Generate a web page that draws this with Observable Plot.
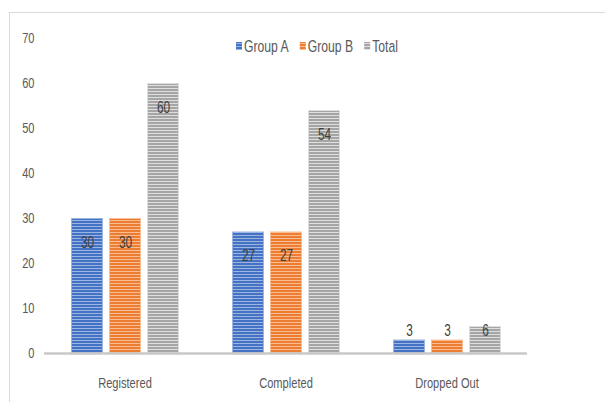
<!DOCTYPE html>
<html>
<head>
<meta charset="utf-8">
<script src="https://cdn.jsdelivr.net/npm/d3@7"></script>
<script src="https://cdn.jsdelivr.net/npm/@observablehq/plot@0.6"></script>
<style>
  html, body { margin: 0; padding: 0; background: #fff; }
  #wrap { position: relative; width: 605px; height: 402px; overflow: hidden; }
  #frame { position: absolute; left: 9px; top: 12px; right: -2px; bottom: -2px;
           border-top: 1.5px solid #d9d9d9; border-left: 1.5px solid #d9d9d9; }
  #chart { position: absolute; left: 0; top: 0; }
</style>
</head>
<body>
<div id="wrap">
  <div id="frame"></div>
  <div id="chart"></div>
</div>
<script>
// Enrollment figures per stage
const stages = ["Registered", "Completed", "Dropped Out"];
const series = ["Group A", "Group B", "Total"];
const groupA = [30, 27, 3];
const groupB = [30, 27, 3];
const total = [60, 54, 6];
const yTicks = [0, 10, 20, 30, 40, 50, 60, 70];

// Striped fills: base colour with lighter horizontal lines
const swatches = {
  "Group A": {id: "stripeA", base: "#4472c4", light: "#9db4e0"},
  "Group B": {id: "stripeB", base: "#ed7d31", light: "#f8bd95"},
  "Total":   {id: "stripeT", base: "#a5a5a5", light: "#dedede"}
};

const rows = [];
stages.forEach((stage, i) => {
  [groupA, groupB, total].forEach((vals, j) => {
    rows.push({stage, series: series[j], value: vals[i]});
  });
});

const tall = rows.filter(d => d.value >= 10);
const short = rows.filter(d => d.value < 10);
const shortLabelLevel = 5;

// Narrow lettering: a sans face squeezed horizontally
const font = `"Liberation Sans", Arial, sans-serif`;
const squeeze = 0.74;

const chart = Plot.plot({
  width: 605,
  height: 402,
  marginLeft: 43,
  marginRight: 77,
  marginTop: 38,
  marginBottom: 49,
  style: {fontFamily: font, fontSize: "15px", color: "#595959", background: "transparent"},
  fx: {domain: stages, padding: 0, label: null, axis: "bottom", tickSize: 0, tickPadding: 24},
  x: {domain: series, paddingInner: 0.16, paddingOuter: 0.67, align: 0.5, axis: null},
  y: {domain: [0, 70], ticks: yTicks, tickSize: 0, tickPadding: 10, label: null},
  color: {domain: series, range: series.map(s => `url(#${swatches[s].id})`)},
  marks: [
    Plot.barY(rows, {fx: "stage", x: "series", y: "value", fill: "series",
      stroke: d => swatches[d.series].light, strokeWidth: 1, inset: 0.5}),
    Plot.ruleY([0], {stroke: "#c8c8c8", strokeWidth: 2.5}),
    Plot.text(tall, {fx: "stage", x: "series", y: "value", text: d => String(d.value),
      dy: 24, fill: "#404040", fontSize: 16}),
    Plot.text(short, {fx: "stage", x: "series", y: () => shortLabelLevel, text: d => String(d.value),
      fill: "#404040", fontSize: 16})
  ]
});

// Stripe pattern definitions
const svg = d3.select(chart);
const defs = svg.insert("defs", ":first-child");
Object.values(swatches).forEach(s => {
  const p = defs.append("pattern").attr("id", s.id).attr("patternUnits", "userSpaceOnUse")
    .attr("width", 4).attr("height", 3);
  p.append("rect").attr("width", 4).attr("height", 3).attr("fill", s.base);
  p.append("rect").attr("y", 1).attr("width", 4).attr("height", 1).attr("fill", s.light);
});

document.getElementById("chart").appendChild(chart);

// Squeeze every text element about its own anchor point
svg.selectAll("text").each(function() {
  const t = d3.select(this);
  const tr = t.attr("transform") || "";
  const x = +t.attr("x") || 0;
  t.attr("x", null);
  t.attr("transform", `${tr} translate(${x},0) scale(${squeeze},1)`);
});

// Legend along the top of the plot area
const legend = svg.append("g")
  .attr("font-family", font).attr("font-size", 16.5).attr("fill", "#595959")
  .attr("text-anchor", "start");
let lx = 236;
const ly = 46;
series.forEach(s => {
  legend.append("rect").attr("x", lx).attr("y", ly - 4).attr("width", 6).attr("height", 8)
    .attr("fill", `url(#${swatches[s].id})`);
  const label = legend.append("text").attr("dy", "0.35em")
    .attr("transform", `translate(${lx + 8},${ly}) scale(${squeeze},1)`).text(s);
  lx += 8 + label.node().getComputedTextLength() * squeeze + 11;
});
</script>
</body>
</html>
